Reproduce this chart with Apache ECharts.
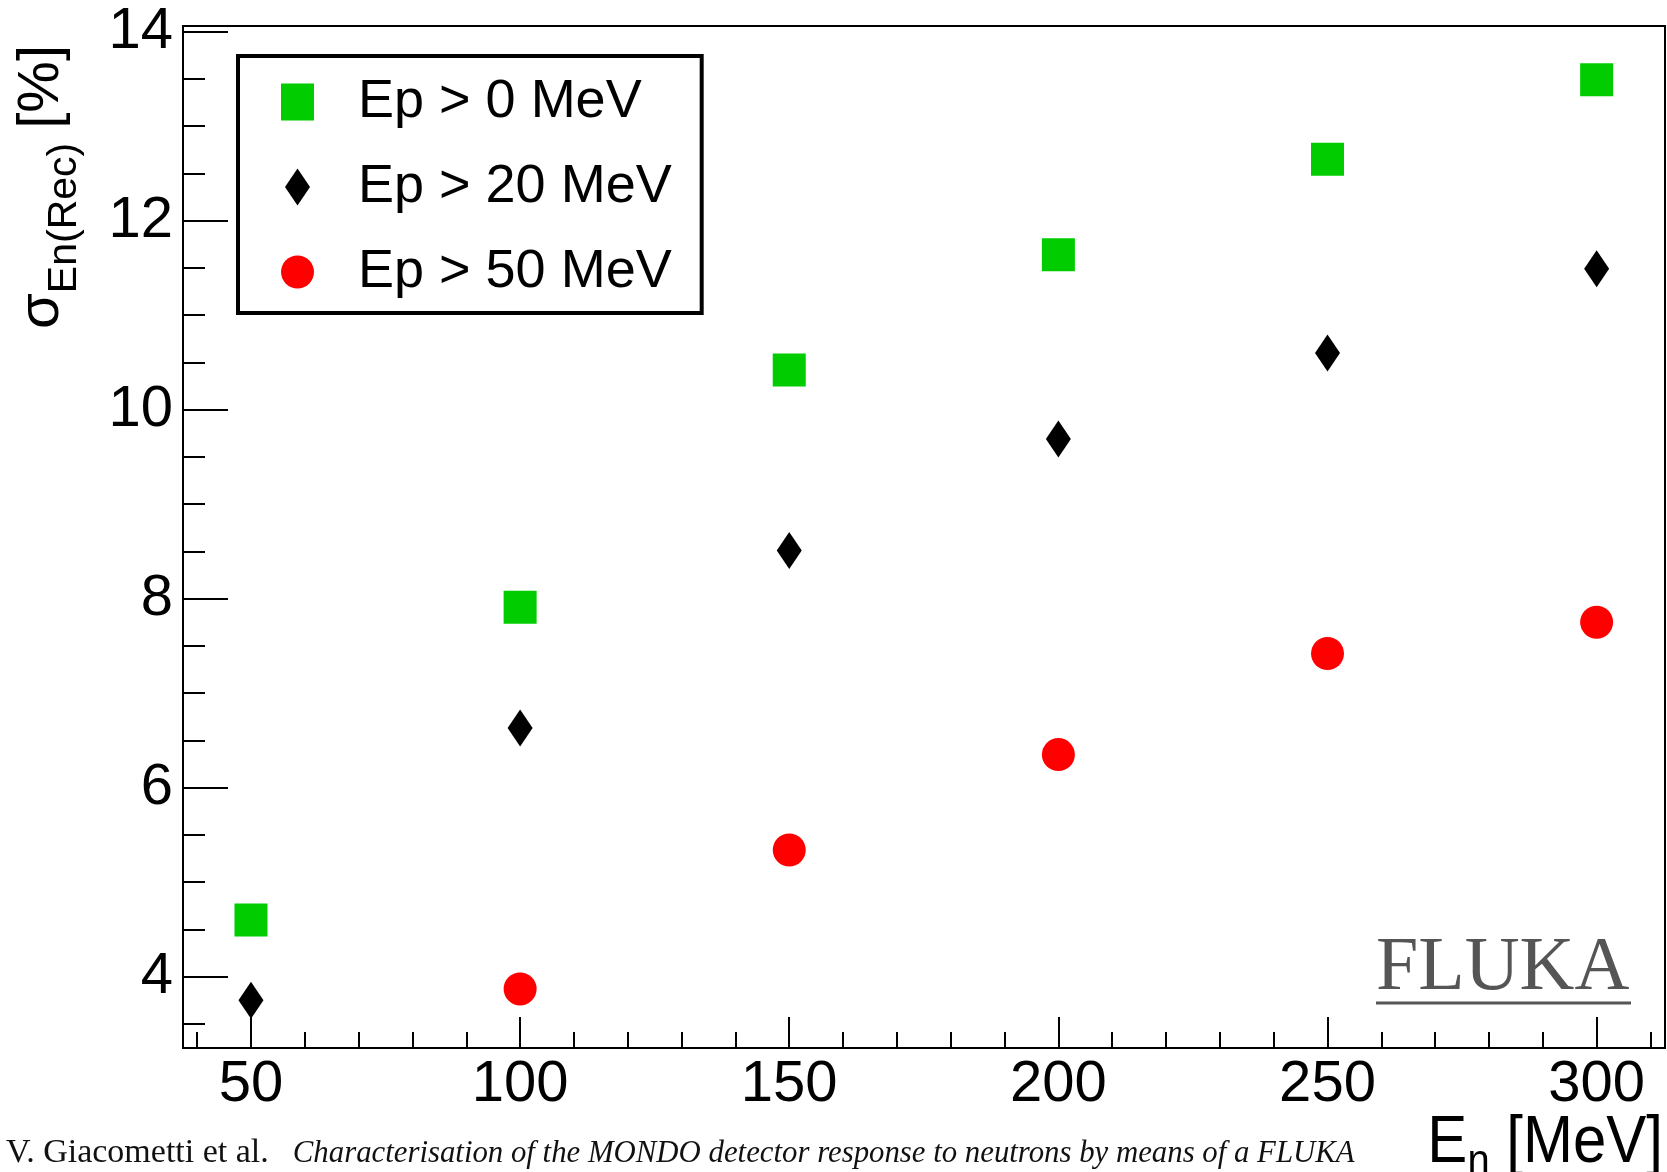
<!DOCTYPE html>
<html>
<head>
<meta charset="utf-8">
<script src="https://cdn.jsdelivr.net/npm/echarts@6/dist/echarts.min.js"></script>
<style>
  html, body { margin: 0; padding: 0; background: #fff; }
  #chart { width: 1667px; height: 1172px; }
</style>
</head>
<body>
<div id="chart"></div>
<script>
// neutron energy [MeV]
const energies = [50, 100, 150, 200, 250, 300]
// sigma_En(Rec) [%] for each proton threshold
const sigmaEp0 = [4.60, 7.91, 10.42, 11.64, 12.65, 13.49]
const sigmaEp20 = [3.75, 6.63, 8.51, 9.69, 10.60, 11.49]
const sigmaEp50 = [null, 3.87, 5.34, 6.35, 7.42, 7.75] // 50 MeV point is below the frame

const seriesNames = ['Ep > 0 MeV', 'Ep > 20 MeV', 'Ep > 50 MeV']

// tick positions
const xMajorTicks = [50, 100, 150, 200, 250, 300]
const xMinorTicks = [40, 60, 70, 80, 90, 110, 120, 130, 140, 160, 170, 180, 190,
  210, 220, 230, 240, 260, 270, 280, 290, 310]
const yMajorTicks = [4, 6, 8, 10, 12, 14]
const yMinorTicks = [3.5, 4.5, 5, 5.5, 6.5, 7, 7.5, 8.5, 9, 9.5, 10.5, 11, 11.5, 12.5, 13, 13.5]

const sansFont = '"Liberation Sans", Arial, Helvetica, sans-serif'
const serifFont = '"Liberation Serif", "Times New Roman", serif'

const toPoints = (values) => energies
  .map((x, i) => [x, values[i]])
  .filter(p => p[1] != null)

const diamondPath = 'path://M5,0 L10,7.4 L5,14.8 L0,7.4 Z'

const chart = echarts.init(document.getElementById('chart'), null, { renderer: 'canvas' })

chart.setOption({
  animation: false,
  backgroundColor: '#fff',
  grid: {
    left: 183,
    right: 2,
    top: 26,
    bottom: 124,
    show: true,
    borderColor: '#000',
    borderWidth: 2,
    backgroundColor: 'transparent',
    containLabel: false,
    outerBoundsMode: 'none'
  },
  legend: {
    orient: 'vertical',
    left: 238,
    top: 56,
    padding: [19, 30, 14, 43],
    itemGap: 31,
    itemWidth: 33,
    itemHeight: 37,
    symbolKeepAspect: true,
    backgroundColor: '#fff',
    borderColor: '#000',
    borderWidth: 4,
    borderRadius: 0,
    selectedMode: false,
    textStyle: {
      fontFamily: sansFont,
      fontSize: 54,
      lineHeight: 37,
      color: '#000',
      padding: [0, 0, 0, 39]
    },
    data: [
      { name: seriesNames[0], icon: 'rect' },
      { name: seriesNames[1], icon: diamondPath },
      { name: seriesNames[2], icon: 'circle' }
    ]
  },
  xAxis: [
    {
      type: 'value',
      position: 'bottom',
      min: 37.37,
      max: 312.7,
      axisLine: { show: true, onZero: false, lineStyle: { color: '#000', width: 2 } },
      axisTick: {
        show: true, inside: true, length: 31,
        customValues: xMajorTicks,
        lineStyle: { color: '#000', width: 2 }
      },
      axisLabel: {
        show: true, customValues: xMajorTicks, margin: 8,
        fontFamily: sansFont, fontSize: 58, color: '#000'
      },
      splitLine: { show: false }
    },
    {
      type: 'value',
      position: 'bottom',
      min: 37.37,
      max: 312.7,
      axisLine: { show: false },
      axisTick: {
        show: true, inside: true, length: 16,
        customValues: xMinorTicks,
        lineStyle: { color: '#000', width: 2 }
      },
      axisLabel: { show: false },
      splitLine: { show: false }
    }
  ],
  yAxis: [
    {
      type: 'value',
      position: 'left',
      min: 3.245,
      max: 14.06,
      axisLine: { show: true, onZero: false, lineStyle: { color: '#000', width: 2 } },
      axisTick: {
        show: true, inside: true, length: 45,
        customValues: yMajorTicks,
        lineStyle: { color: '#000', width: 2 }
      },
      axisLabel: {
        show: true, customValues: yMajorTicks, margin: 10,
        fontFamily: sansFont, fontSize: 58, color: '#000'
      },
      splitLine: { show: false }
    },
    {
      type: 'value',
      position: 'left',
      min: 3.245,
      max: 14.06,
      axisLine: { show: false },
      axisTick: {
        show: true, inside: true, length: 22,
        customValues: yMinorTicks,
        lineStyle: { color: '#000', width: 2 }
      },
      axisLabel: { show: false },
      splitLine: { show: false }
    }
  ],
  series: [
    {
      name: seriesNames[0],
      type: 'scatter',
      symbol: 'rect',
      symbolSize: 33,
      itemStyle: { color: '#00cc00', opacity: 1 },
      data: toPoints(sigmaEp0),
      z: 3
    },
    {
      name: seriesNames[1],
      type: 'scatter',
      symbol: 'diamond',
      symbolSize: [25, 37],
      itemStyle: { color: '#000', opacity: 1 },
      data: toPoints(sigmaEp20),
      z: 3
    },
    {
      name: seriesNames[2],
      type: 'scatter',
      symbol: 'circle',
      symbolSize: 33,
      itemStyle: { color: '#ff0000', opacity: 1 },
      data: toPoints(sigmaEp50),
      z: 3
    }
  ],
  graphic: [
    // y axis title, reads bottom to top
    {
      type: 'text',
      x: 85,
      y: 45,
      rotation: Math.PI / 2,
      style: {
        text: '{m|σ}{s|En(Rec)}{m|[%]}',
        align: 'right',
        verticalAlign: 'bottom',
        textAlign: 'right',
        textVerticalAlign: 'bottom',
        fill: '#000',
        rich: {
          m: { fontFamily: sansFont, fontSize: 58, lineHeight: 58, padding: [0, 0, 14, 0], verticalAlign: 'bottom', fill: '#000' },
          s: { fontFamily: sansFont, fontSize: 41, lineHeight: 42, padding: [0, 14, 0, 0], verticalAlign: 'bottom', fill: '#000' }
        }
      }
    },
    // x axis title
    {
      type: 'text',
      x: 1663,
      y: 1185,
      scaleY: 1.12,
      style: {
        text: '{m|E}{s|n}{m| [MeV]}',
        align: 'right',
        verticalAlign: 'bottom',
        textAlign: 'right',
        textVerticalAlign: 'bottom',
        fill: '#000',
        rich: {
          m: { fontFamily: sansFont, fontSize: 60, lineHeight: 60, padding: [0, 0, 7, 0], verticalAlign: 'bottom', fill: '#000' },
          s: { fontFamily: sansFont, fontSize: 40, lineHeight: 40, verticalAlign: 'bottom', fill: '#000' }
        }
      }
    },
    // FLUKA watermark
    {
      type: 'text',
      x: 1376,
      y: 969,
      z: 10,
      style: {
        text: 'FLUKA',
        fontFamily: serifFont,
        fontSize: 76,
        fill: '#555555',
        align: 'left',
        verticalAlign: 'middle',
        textAlign: 'left',
        textVerticalAlign: 'middle'
      }
    },
    {
      type: 'line',
      z: 10,
      shape: { x1: 1376, y1: 1003, x2: 1631, y2: 1003 },
      style: { stroke: '#555555', lineWidth: 3 }
    },
    // citation footer
    {
      type: 'text',
      x: 6,
      y: 1152,
      style: {
        text: '{r|V. Giacometti et al.}{i|Characterisation of the MONDO detector response to neutrons by means of a FLUKA}',
        align: 'left',
        verticalAlign: 'middle',
        textAlign: 'left',
        textVerticalAlign: 'middle',
        fill: '#000',
        rich: {
          r: { fontFamily: serifFont, fontSize: 34, lineHeight: 36, padding: [0, 24, 0, 0], verticalAlign: 'bottom', fill: '#111' },
          i: { fontFamily: serifFont, fontSize: 30.8, lineHeight: 36, padding: [0, 0, 1, 0], verticalAlign: 'bottom', fontStyle: 'italic', fill: '#111' }
        }
      }
    }
  ]
})
</script>
</body>
</html>
